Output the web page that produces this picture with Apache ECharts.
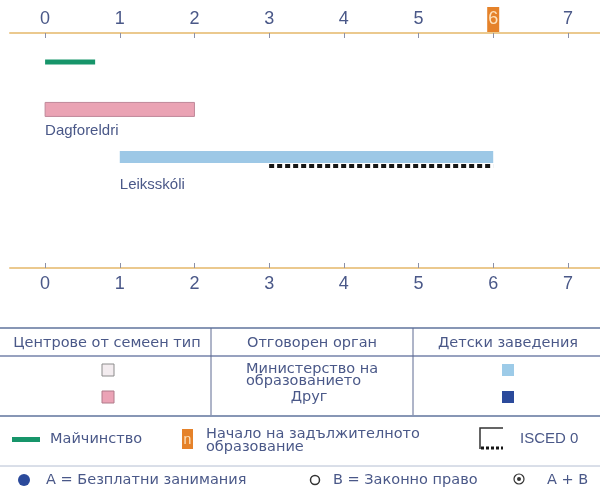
<!DOCTYPE html>
<html>
<head>
<meta charset="utf-8">
<script src="https://cdn.jsdelivr.net/npm/echarts@6/dist/echarts.min.js"></script>
<style>
  html, body { margin: 0; padding: 0; background: #fff; }
  #chart { width: 600px; height: 490px; }
</style>
</head>
<body>
<div id="chart"></div>
<script>
// възрасти (години) – редове на графиката
const rowNames = ["Майчинство", "Dagforeldri", "Leiksskóli"];
const rowStart = [0, 0, 1];
const rowEnd = [0.67, 2, 6];
const rowLabels = ["", "Dagforeldri", "Leiksskóli"];
// ISCED 0 (пунктир под ред 2)
const iscedRow = [2];
const iscedStart = [3];
const iscedEnd = [6];
const ageTicks = [0, 1, 2, 3, 4, 5, 6, 7];
const compulsoryAge = 6;

const textColor = "#4a5888";
const chart = echarts.init(document.getElementById("chart"), null, { renderer: "canvas" });

function axisLabelFmt(v) {
  return v === compulsoryAge ? "{hl|" + v + "}" : "{n|" + v + "}";
}

const labelRich = {
  n: { color: textColor, fontSize: 18, fontFamily: "Liberation Sans", padding: [3, 1, 4, 1] },
  hl: { color: "#fde2bd", backgroundColor: "#e5822a", fontSize: 18, fontFamily: "Liberation Sans", padding: [3, 1, 4, 1] },
};

function makeAxis(pos, withHl) {
  return {
    type: "value",
    position: pos,
    min: -0.47,
    max: 7.43,
    axisLine: { onZero: false, lineStyle: { color: "#ebc98e", width: 2 } },
    axisTick: { inside: true, length: 5, customValues: ageTicks, lineStyle: { color: "#8b90a8", width: 1 } },
    axisLabel: {
      customValues: ageTicks,
      margin: pos === "top" ? 1 : 4,
      formatter: withHl ? axisLabelFmt : (v) => "{n|" + v + "}",
      rich: labelRich,
    },
    splitLine: { show: false },
  };
}

const barHeights = [5, 14, 12];
const barFill = ["#17956a", "#eaa3b4", "#9dc8e6"];
const barStroke = [null, "#c0899a", null];
const labelOffset = [0, 21, 28];

const option = {
  animation: false,
  grid: { left: 10, right: 0, top: 33, bottom: 222 },
  xAxis: [makeAxis("top", true), makeAxis("bottom", false)],
  yAxis: { type: "value", min: -0.61, max: 4.34, inverse: true, show: false },
  series: [
    {
      type: "custom",
      xAxisIndex: 0,
      data: rowNames.map((n, i) => [i, rowStart[i], rowEnd[i]]),
      renderItem(params, api) {
        const i = params.dataIndex;
        const row = api.value(0);
        const s = api.coord([api.value(1), row]);
        const e = api.coord([api.value(2), row]);
        const h = barHeights[i];
        const children = [
          {
            type: "rect",
            shape: { x: s[0], y: s[1] - h / 2, width: e[0] - s[0], height: h },
            style: { fill: barFill[i], stroke: barStroke[i], lineWidth: barStroke[i] ? 1 : 0 },
          },
        ];
        if (rowLabels[i]) {
          children.push({
            type: "text",
            x: s[0],
            y: s[1] + labelOffset[i],
            style: {
              text: rowLabels[i], fill: textColor, font: "15px 'Liberation Sans'",
              textAlign: "left", textVerticalAlign: "middle",
            },
          });
        }
        return { type: "group", children };
      },
    },
    {
      type: "custom",
      xAxisIndex: 0,
      data: iscedRow.map((r, i) => [r, iscedStart[i], iscedEnd[i]]),
      renderItem(params, api) {
        const row = api.value(0);
        const s = api.coord([api.value(1), row]);
        const e = api.coord([api.value(2), row]);
        return {
          type: "line",
          shape: { x1: s[0], y1: s[1] + 9, x2: e[0], y2: s[1] + 9 },
          style: { stroke: "#151515", lineWidth: 4, lineDash: [5, 3] },
        };
      },
    },
  ],
  graphic: [
    // таблица
    { type: "line", shape: { x1: 0, y1: 328, x2: 600, y2: 328 }, style: { stroke: "#8796b5", lineWidth: 2 } },
    { type: "line", shape: { x1: 0, y1: 356, x2: 600, y2: 356 }, style: { stroke: "#7482aa", lineWidth: 1.5 } },
    { type: "line", shape: { x1: 211, y1: 328, x2: 211, y2: 415 }, style: { stroke: "#5f6a92", lineWidth: 1 } },
    { type: "line", shape: { x1: 413, y1: 328, x2: 413, y2: 415 }, style: { stroke: "#5f6a92", lineWidth: 1 } },
    { type: "line", shape: { x1: 0, y1: 416, x2: 600, y2: 416 }, style: { stroke: "#8796b5", lineWidth: 2 } },
    { type: "text", x: 107, y: 343, style: { text: "Центрове от семеен тип", fill: textColor, font: "14.5px 'DejaVu Sans'", textAlign: "center", textVerticalAlign: "middle" } },
    { type: "text", x: 312, y: 343, style: { text: "Отговорен орган", fill: textColor, font: "14.5px 'DejaVu Sans'", textAlign: "center", textVerticalAlign: "middle" } },
    { type: "text", x: 508, y: 343, style: { text: "Детски заведения", fill: textColor, font: "14.5px 'DejaVu Sans'", textAlign: "center", textVerticalAlign: "middle" } },
    { type: "rect", shape: { x: 102, y: 364, width: 12, height: 12 }, style: { fill: "#f3ecef", stroke: "#8c8c8c", lineWidth: 1 } },
    { type: "rect", shape: { x: 102, y: 391, width: 12, height: 12 }, style: { fill: "#eba3b6", stroke: "#b07a8a", lineWidth: 1 } },
    { type: "text", x: 246, y: 369, style: { text: "Министерство на", fill: textColor, font: "14.5px 'DejaVu Sans'", textAlign: "left", textVerticalAlign: "middle" } },
    { type: "text", x: 246, y: 381, style: { text: "образованието", fill: textColor, font: "14.5px 'DejaVu Sans'", textAlign: "left", textVerticalAlign: "middle" } },
    { type: "text", x: 309, y: 397, style: { text: "Друг", fill: textColor, font: "14.5px 'DejaVu Sans'", textAlign: "center", textVerticalAlign: "middle" } },
    { type: "rect", shape: { x: 502, y: 364, width: 12, height: 12 }, style: { fill: "#9dcbe8" } },
    { type: "rect", shape: { x: 502, y: 391, width: 12, height: 12 }, style: { fill: "#2b4a9b" } },
    // легенда
    { type: "rect", shape: { x: 12, y: 437, width: 28, height: 5 }, style: { fill: "#17956a" } },
    { type: "text", x: 50, y: 439, style: { text: "Майчинство", fill: textColor, font: "14.5px 'DejaVu Sans'", textAlign: "left", textVerticalAlign: "middle" } },
    { type: "rect", shape: { x: 182, y: 429, width: 11, height: 20 }, style: { fill: "#e5822a" } },
    { type: "text", x: 187.5, y: 440, style: { text: "n", fill: "#fde2bd", font: "14px 'Liberation Sans'", textAlign: "center", textVerticalAlign: "middle" } },
    { type: "text", x: 206, y: 434, style: { text: "Начало на задължителното", fill: textColor, font: "14.5px 'DejaVu Sans'", textAlign: "left", textVerticalAlign: "middle" } },
    { type: "text", x: 206, y: 447, style: { text: "образование", fill: textColor, font: "14.5px 'DejaVu Sans'", textAlign: "left", textVerticalAlign: "middle" } },
    { type: "polyline", shape: { points: [[480, 449], [480, 428], [503, 428]] }, style: { stroke: "#333", lineWidth: 1.5, fill: null } },
    { type: "line", shape: { x1: 481, y1: 448, x2: 503, y2: 448 }, style: { stroke: "#151515", lineWidth: 3, lineDash: [3, 2] } },
    { type: "text", x: 520, y: 439, style: { text: "ISCED 0", fill: textColor, font: "15px 'Liberation Sans'", textAlign: "left", textVerticalAlign: "middle" } },
    { type: "line", shape: { x1: 0, y1: 466, x2: 600, y2: 466 }, style: { stroke: "#b4bed2", lineWidth: 1 } },
    { type: "circle", shape: { cx: 24, cy: 480, r: 6 }, style: { fill: "#2b4a9b" } },
    { type: "text", x: 46, y: 480, style: { text: "A = Безплатни занимания", fill: textColor, font: "14.5px 'DejaVu Sans'", textAlign: "left", textVerticalAlign: "middle" } },
    { type: "circle", shape: { cx: 315, cy: 480, r: 4.5 }, style: { fill: "#fff", stroke: "#333", lineWidth: 1.5 } },
    { type: "text", x: 333, y: 480, style: { text: "B = Законно право", fill: textColor, font: "14.5px 'DejaVu Sans'", textAlign: "left", textVerticalAlign: "middle" } },
    { type: "circle", shape: { cx: 519, cy: 479, r: 5 }, style: { fill: "#fff", stroke: "#333", lineWidth: 1.2 } },
    { type: "circle", shape: { cx: 519, cy: 479, r: 2 }, style: { fill: "#333" } },
    { type: "text", x: 547, y: 480, style: { text: "A + B", fill: textColor, font: "14.5px 'DejaVu Sans'", textAlign: "left", textVerticalAlign: "middle" } },
  ],
};

chart.setOption(option);
</script>
</body>
</html>
